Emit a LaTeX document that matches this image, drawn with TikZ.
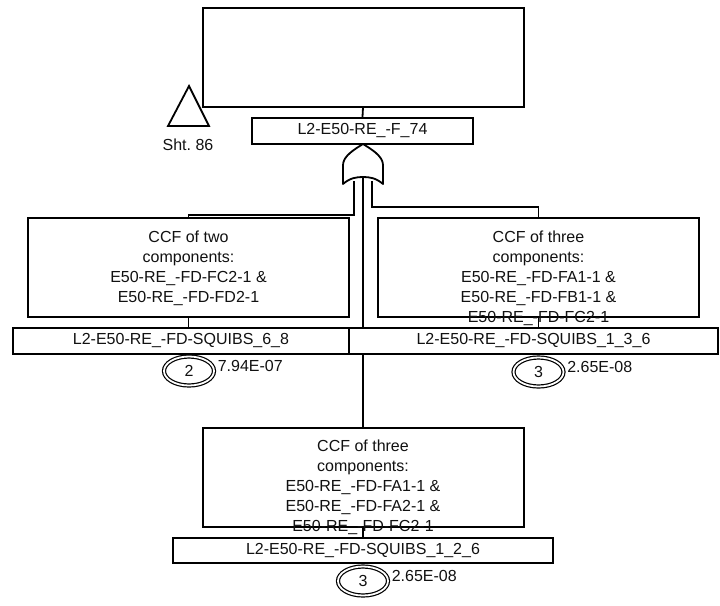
\documentclass[tikz,border=0pt]{standalone}
\usepackage{fontspec}
\setmainfont{Liberation Sans}
\usetikzlibrary{positioning,shapes.geometric}
\definecolor{ftink}{HTML}{000000}
\definecolor{fttext}{HTML}{111111}
\tikzset{
  evbox/.style={draw=ftink,line width=2pt,fill=white,
              minimum width=321pt,minimum height=99pt,inner sep=0pt},
  evtext/.style={align=center,inner sep=0pt,font=\fontsize{16}{20}\selectfont,text=fttext},
  idbox/.style={draw=ftink,line width=2pt,fill=white,minimum height=26pt,
              inner sep=0pt,font=\fontsize{16}{20}\selectfont,text=fttext},
  ccfc/.style={ellipse,draw=ftink,double,double distance=1.8pt,line width=1.2pt,
              minimum width=50pt,minimum height=29pt,inner sep=0pt,
              font=\fontsize{16}{20}\selectfont,text=fttext},
  prob/.style={anchor=base west,inner sep=0pt,font=\fontsize{16}{20}\selectfont,text=fttext},
  conn/.style={draw=ftink,line width=1.8pt},
  orgate/.style={draw=ftink,line width=1.8pt,fill=white,line join=round},
}

\begin{document}
\begin{tikzpicture}[x=1pt,y=-1pt]
  \useasboundingbox (0,0) rectangle (720,605);

  % ================= gate inputs (drawn first, boxes cover them) =================
  \coordinate (gtop) at (363,144);
  \coordinate (gin1) at (354,181);
  \coordinate (gin2) at (363,177);
  \coordinate (gin3) at (372,181);

  \node[evbox] (lbox) at (188.5,267.5) {};
  \node[evbox] (rbox) at (538.5,267.5) {};
  \node[evbox] (bbox) at (363,477) {};
  \draw[conn] (gin1) |- ([yshift=2pt]lbox.north) -- (lbox.north);
  \draw[conn] (gin3) |- ([yshift=10pt]rbox.north) -- (rbox.north);
  \draw[conn] (gin2) -- (bbox.north);

  % ================= top event =================
  \node[evbox] (top) at (363,57) {};
  \node[idbox,minimum width=221pt] (topid) at (362.5,131) {L2-E50-RE\_-F\_74};
  \draw[conn] (top.south) -- (topid.north);
  \draw[conn] (top.south west) -- ++(7,0);

  % transfer to sheet 86
  \coordinate (xfer) at (189,86);
  \draw[conn,line join=miter] (xfer) -- (209,126) -- (168,126) -- cycle;
  \node[font=\fontsize{16}{20}\selectfont,text=fttext] (sht) at (188,145) {Sht.\ 86};

  % OR gate
  \draw[orgate] (gtop) .. controls (355,149) and (343,156) .. (343,165)
    -- (343,184) .. controls (350,178) and (356,177) .. (gin2)
    .. controls (370,177) and (376,178) .. (383,184)
    -- (383,165) .. controls (383,156) and (371,149) .. (gtop) -- cycle;

  % ================= left: CCF of two =================
  \node[evtext,below=13.5pt of lbox.north] (ltext)
    {CCF of two\\components:\\E50-RE\_-FD-FC2-1 \&\\E50-RE\_-FD-FD2-1};
  \node[idbox,minimum width=336pt] (lid) at (181,340.5) {L2-E50-RE\_-FD-SQUIBS\_6\_8};
  \draw[conn] (lbox.south) -- (lbox.south |- lid.north);
  \node[ccfc] (lc) at (189,371) {2};
  \node[prob] (lp) at ([xshift=3pt]lc.east) {7.94E-07};

  % ================= right: CCF of three =================
  \node[evtext,below=13.5pt of rbox.north] (rtext)
    {CCF of three\\components:\\E50-RE\_-FD-FA1-1 \&\\E50-RE\_-FD-FB1-1 \&\\E50-RE\_-FD-FC2-1};
  \node[idbox,minimum width=369pt] (rid) at (533.5,340.5) {L2-E50-RE\_-FD-SQUIBS\_1\_3\_6};
  \draw[conn] (rbox.south) -- (rbox.south |- rid.north);
  \node[ccfc] (rc) at (538.5,372) {3};
  \node[prob] (rp) at ([xshift=3pt]rc.east) {2.65E-08};

  % ================= bottom: CCF of three =================
  \node[evtext,below=13.5pt of bbox.north] (btext)
    {CCF of three\\components:\\E50-RE\_-FD-FA1-1 \&\\E50-RE\_-FD-FA2-1 \&\\E50-RE\_-FD-FC2-1};
  \node[idbox,minimum width=380pt,minimum height=25pt] (bid) at (363,550.5) {L2-E50-RE\_-FD-SQUIBS\_1\_2\_6};
  \draw[conn] (bbox.south) -- (bid.north);
  \node[ccfc] (bc) at (363,581) {3};
  \node[prob] (bp) at ([xshift=3pt]bc.east) {2.65E-08};
\end{tikzpicture}
\end{document}
